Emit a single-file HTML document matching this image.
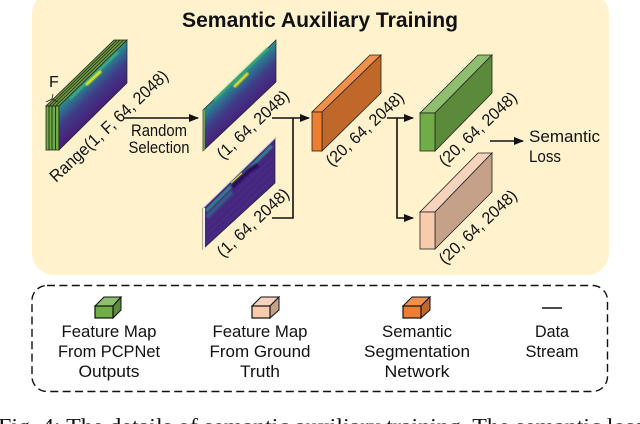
<!DOCTYPE html>
<html><head><meta charset="utf-8"><style>
html,body{margin:0;padding:0;background:#fff;width:640px;height:424px;overflow:hidden}
svg{display:block}
text{font-family:"Liberation Sans",sans-serif;fill:#111}
.l{font-size:16.500px;text-anchor:middle}
.r{font-size:16.500px}
</style></head><body>
<svg width="640" height="424" viewBox="0 0 640 424" xmlns="http://www.w3.org/2000/svg">
<defs>
<linearGradient id="h" gradientUnits="userSpaceOnUse" x1="93" y1="73" x2="114" y2="95">
<stop offset="0" stop-color="#2a8f8c"/><stop offset=".22" stop-color="#2f6a8e"/><stop offset=".5" stop-color="#3f3d88"/><stop offset="1" stop-color="#47207a"/></linearGradient>
<linearGradient id="h2" gradientUnits="userSpaceOnUse" x1="240" y1="75" x2="261" y2="97">
<stop offset="0" stop-color="#2a8f8c"/><stop offset=".22" stop-color="#2f6a8e"/><stop offset=".5" stop-color="#3f3d88"/><stop offset="1" stop-color="#47207a"/></linearGradient>
<filter id="b"><feGaussianBlur stdDeviation=".9"/></filter>
<marker id="a" markerWidth="11" markerHeight="9" refX="9" refY="4" orient="auto" markerUnits="userSpaceOnUse"><path d="M0 0L10 4L0 8z" fill="#111"/></marker>
</defs>
<rect x="32" y="-8" width="577" height="283" rx="22" fill="#fff2cc"/>
<text x="182" y="27" font-size="21.500" font-weight="bold" textLength="276" lengthAdjust="spacingAndGlyphs">Semantic Auxiliary Training</text>

<!-- stack -->
<polygon points="46,106 59,106 127,40 114,40" fill="#6f9a45" stroke="#222" stroke-width=".8"/>
<g stroke="#1d2a12" stroke-width=".8"><line x1="49" y1="106" x2="117" y2="40"/><line x1="52" y1="106" x2="120" y2="40"/><line x1="55.500" y1="106" x2="123.500" y2="40"/></g>
<rect x="46" y="106" width="13" height="44" fill="#70ad47" stroke="#222" stroke-width=".8"/>
<g stroke="#1d2a12" stroke-width=".9"><line x1="49" y1="106" x2="49" y2="150"/><line x1="52" y1="106" x2="52" y2="150"/><line x1="55.500" y1="106" x2="55.500" y2="150"/></g>
<polygon points="59,106 127,40 127,83 59,150" fill="url(#h)" stroke="#222" stroke-width=".7"/>
<path d="M70 99L118 52" stroke="#3fbf78" stroke-width="2.500" opacity=".75" filter="url(#b)" fill="none"/>
<path d="M86 85L101 71" stroke="#dfe41f" stroke-width="3" filter="url(#b)" fill="none"/>
<text x="49" y="87" font-size="16">F</text>
<path d="M46 102Q50 100 52 99Q54 100 58 102" stroke="#222" fill="none" stroke-width=".8"/>
<line x1="52" y1="99" x2="53" y2="94" stroke="#222" stroke-width=".8"/>
<text transform="translate(56 183) rotate(-43)" font-size="17" textLength="155" lengthAdjust="spacingAndGlyphs">Range(1, F, 64, 2048)</text>

<!-- arrow 1 -->
<line x1="124" y1="118" x2="198" y2="118" stroke="#111" stroke-width="1.600" marker-end="url(#a)"/>
<text class="l" x="159" y="136" textLength="56" lengthAdjust="spacingAndGlyphs">Random</text>
<text class="l" x="159" y="153" textLength="61" lengthAdjust="spacingAndGlyphs">Selection</text>

<!-- map 2 -->
<polygon points="203,110 276,40 276,82 203,151" fill="url(#h2)" stroke="#222" stroke-width=".7"/>
<line x1="204" y1="110" x2="204" y2="151" stroke="#7ab648" stroke-width="1.500"/>
<path d="M214 100L268 48" stroke="#3fbf78" stroke-width="2.500" opacity=".75" filter="url(#b)" fill="none"/>
<path d="M234 87L248 73" stroke="#dfe41f" stroke-width="3" filter="url(#b)" fill="none"/>
<text transform="translate(223 160) rotate(-43)" font-size="16.500" textLength="92" lengthAdjust="spacingAndGlyphs">(1, 64, 2048)</text>

<!-- map 3 -->
<polygon points="203,208 275,138 275,183 203,249" fill="#46277f" stroke="#222" stroke-width=".7"/>
<g stroke="#55409a" stroke-width=".5" opacity=".7"><path d="M206 222L274 156"/><path d="M206 229L274 163"/><path d="M206 236L274 170"/><path d="M206 243L274 177"/></g>
<path d="M206 211L272 146" stroke="#2f9a8c" stroke-width="3" opacity=".8" filter="url(#b)" fill="none"/>
<path d="M207 217L232 192" stroke="#2f7f8e" stroke-width="4" opacity=".6" filter="url(#b)" fill="none"/>
<path d="M232 187L250 170L258 165" stroke="#2a1058" stroke-width="4.500" filter="url(#b)" fill="none"/>
<path d="M231 183L242 173" stroke="#d8e020" stroke-width="1.200" fill="none"/>
<line x1="203" y1="208" x2="275" y2="138" stroke="#ddd" stroke-width="1.200"/>
<line x1="204" y1="208" x2="204" y2="249" stroke="#eee" stroke-width="2"/>
<text transform="translate(223 258) rotate(-43)" font-size="16.500" textLength="92" lengthAdjust="spacingAndGlyphs">(1, 64, 2048)</text>

<!-- connector -->
<path d="M272 118H309" stroke="#111" stroke-width="1.600" marker-end="url(#a)" fill="none"/>
<path d="M293 118V218H272" stroke="#111" stroke-width="1.600" fill="none"/>

<!-- orange -->
<polygon points="312,112 322,112 381,55 370,55" fill="#f0904a" stroke="#222" stroke-width=".8"/>
<polygon points="322,112 381,55 381,93 322,151" fill="#c0672a" stroke="#222" stroke-width=".8"/>
<rect x="312" y="112" width="10" height="39" fill="#ed7d31" stroke="#222" stroke-width=".8"/>
<text transform="translate(332 167) rotate(-43)" font-size="16.500" textLength="100" lengthAdjust="spacingAndGlyphs">(20, 64, 2048)</text>

<path d="M387 118H413" stroke="#111" stroke-width="1.600" marker-end="url(#a)" fill="none"/>
<path d="M397 118V218H413" stroke="#111" stroke-width="1.600" marker-end="url(#a)" fill="none"/>

<!-- green -->
<polygon points="420,113 435,113 492,55 478,55" fill="#8fbe6e" stroke="#222" stroke-width=".8"/>
<polygon points="435,113 492,55 492,93 435,151" fill="#5b8a3a" stroke="#222" stroke-width=".8"/>
<rect x="420" y="113" width="15" height="38" fill="#70ad47" stroke="#222" stroke-width=".8"/>
<text transform="translate(445 167) rotate(-43)" font-size="16.500" textLength="100" lengthAdjust="spacingAndGlyphs">(20, 64, 2048)</text>

<!-- pink -->
<polygon points="420,212 435,212 492,153 478,153" fill="#f7d3bd" stroke="#222" stroke-width=".8"/>
<polygon points="435,212 492,153 492,192 435,249" fill="#c4a188" stroke="#222" stroke-width=".8"/>
<rect x="420" y="212" width="15" height="37" fill="#f8cbad" stroke="#222" stroke-width=".8"/>
<text transform="translate(445 265) rotate(-43)" font-size="16.500" textLength="100" lengthAdjust="spacingAndGlyphs">(20, 64, 2048)</text>

<path d="M490 141H523" stroke="#111" stroke-width="1.600" marker-end="url(#a)" fill="none"/>
<text class="r" x="529" y="142" textLength="71" lengthAdjust="spacingAndGlyphs">Semantic</text>
<text class="r" x="529" y="162" textLength="32" lengthAdjust="spacingAndGlyphs">Loss</text>

<!-- legend -->
<rect x="32" y="285.500" width="575.500" height="106" rx="15" fill="none" stroke="#111" stroke-width="1.400" stroke-dasharray="8 4.400"/>

<polygon points="95,306 113,306 121,297 104,297" fill="#8fbe6e" stroke="#111" stroke-width="1"/>
<polygon points="113,306 121,297 121,310 113,318" fill="#5b8a3a" stroke="#111" stroke-width="1"/>
<rect x="95" y="306" width="18" height="12" fill="#70ad47" stroke="#111" stroke-width="1.200"/>
<text class="l" x="109" y="337" textLength="95" lengthAdjust="spacingAndGlyphs">Feature Map</text>
<text class="l" x="109" y="357" textLength="102" lengthAdjust="spacingAndGlyphs">From PCPNet</text>
<text class="l" x="109" y="377" textLength="61" lengthAdjust="spacingAndGlyphs">Outputs</text>

<polygon points="252,306 270,306 279,297 261,297" fill="#f7d3bd" stroke="#111" stroke-width="1"/>
<polygon points="270,306 279,297 279,310 270,318" fill="#c4a188" stroke="#111" stroke-width="1"/>
<rect x="252" y="306" width="18" height="12" fill="#f8cbad" stroke="#111" stroke-width="1.200"/>
<text class="l" x="260" y="337" textLength="95" lengthAdjust="spacingAndGlyphs">Feature Map</text>
<text class="l" x="260" y="357" textLength="101" lengthAdjust="spacingAndGlyphs">From Ground</text>
<text class="l" x="260" y="377" textLength="40" lengthAdjust="spacingAndGlyphs">Truth</text>

<polygon points="403,306 421,306 430,297 412,297" fill="#f0904a" stroke="#111" stroke-width="1"/>
<polygon points="421,306 430,297 430,310 421,318" fill="#c0672a" stroke="#111" stroke-width="1"/>
<rect x="403" y="306" width="18" height="12" fill="#ed7d31" stroke="#111" stroke-width="1.200"/>
<text class="l" x="417" y="337" textLength="70" lengthAdjust="spacingAndGlyphs">Semantic</text>
<text class="l" x="417" y="357" textLength="106" lengthAdjust="spacingAndGlyphs">Segmentation</text>
<text class="l" x="417" y="377" textLength="65" lengthAdjust="spacingAndGlyphs">Network</text>

<line x1="542" y1="308" x2="562" y2="308" stroke="#111" stroke-width="1.500"/>
<text class="l" x="552" y="337" textLength="34" lengthAdjust="spacingAndGlyphs">Data</text>
<text class="l" x="552" y="357" textLength="53" lengthAdjust="spacingAndGlyphs">Stream</text>

<text x="-2" y="433" font-size="21" style="font-family:'Liberation Serif',serif" textLength="646" lengthAdjust="spacingAndGlyphs">Fig. 4: The details of semantic auxiliary training. The semantic loss</text>
</svg>
</body></html>
